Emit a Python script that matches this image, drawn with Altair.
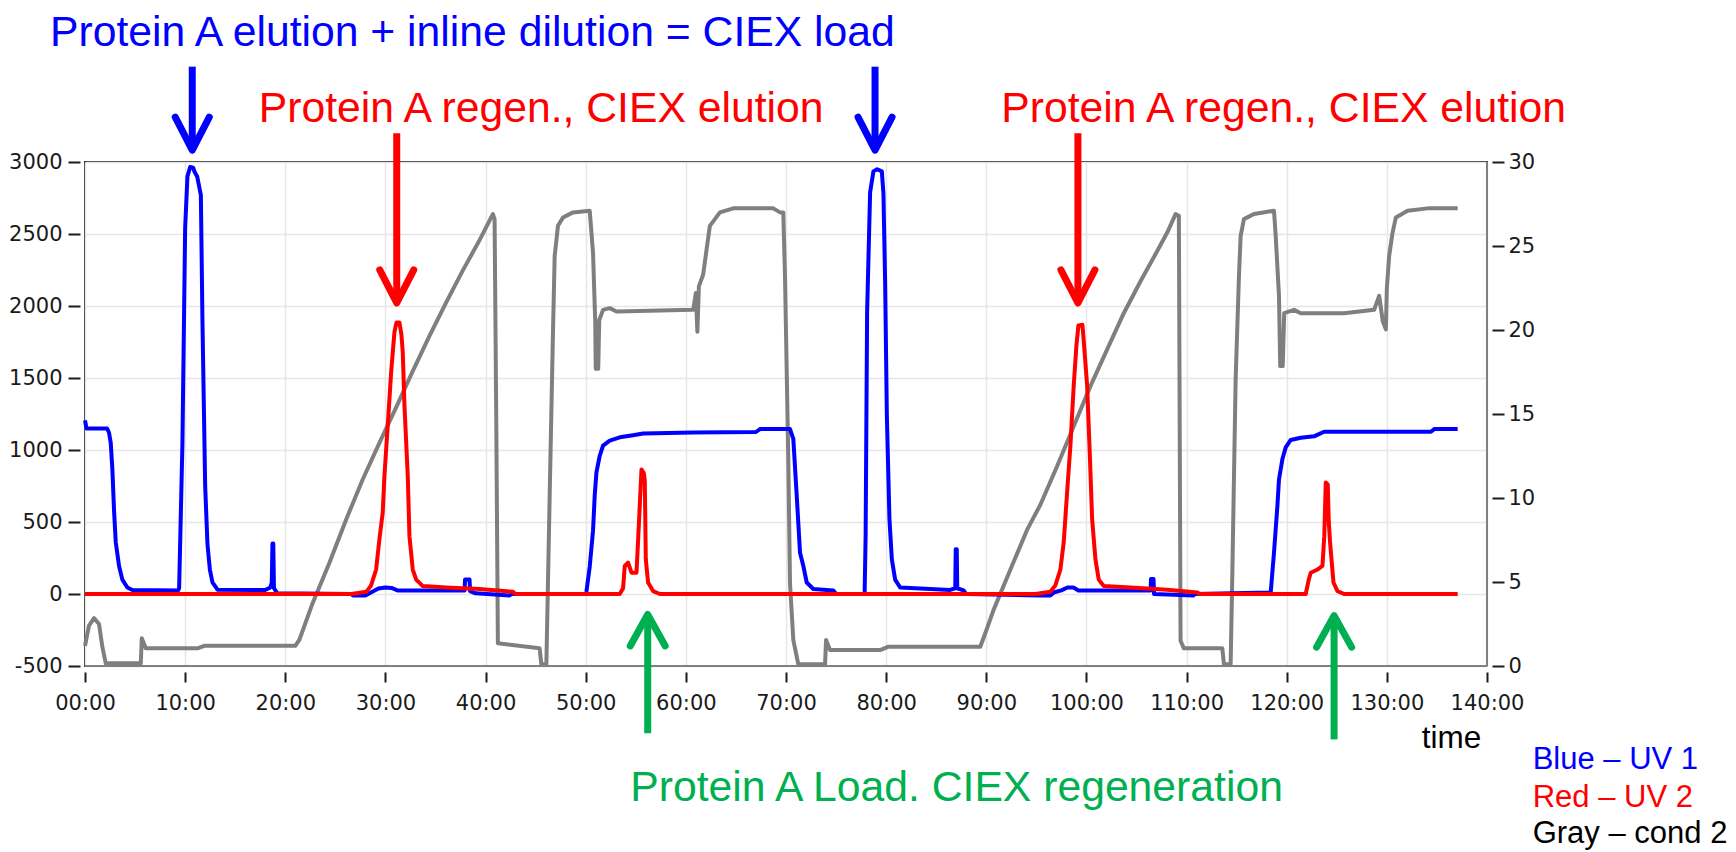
import altair as alt
import pandas as pd

# ---------------- data (time in minutes) ----------------
uv1_t = [0.0, 0.15, 2.2, 2.4, 2.57, 2.73, 2.9, 3.07, 3.4, 3.73, 4.23, 4.73, 9.3, 9.4, 9.73, 10.0, 10.23,
         10.5, 10.8, 10.95, 11.2, 11.57, 11.73, 12.0, 12.23, 12.47, 12.73, 13.23, 18.0, 18.5, 18.65, 18.72,
         18.8, 18.87, 19.2, 26.5, 26.8, 28.0, 28.6, 29.3, 30.0, 30.6, 31.2, 37.9, 37.95, 38.4, 38.45, 39.0,
         42.4, 42.6, 50.0, 50.07, 50.4, 50.73, 50.9, 51.07, 51.4, 51.73, 52.4, 53.4, 54.73, 55.73, 60.73,
         67.0, 67.4, 70.4, 70.73, 71.07, 71.4, 71.73, 72.07, 72.73, 74.73, 75.0, 77.85, 77.95, 78.1, 78.4,
         78.73, 79.1, 79.57, 79.73, 79.9, 80.07, 80.33, 80.57, 80.9, 81.4, 86.4, 86.9, 86.95, 87.05, 87.1,
         87.73, 88.0, 95.4, 96.4, 96.8, 97.5, 98.1, 98.7, 99.2, 106.4, 106.45, 106.7, 106.75, 110.7, 110.8,
         118.4, 118.73, 119.07, 119.23, 119.57, 119.9, 120.4, 121.4, 122.73, 123.73, 134.4, 134.73, 137.07]
uv1_v = [1205, 1150, 1150, 1120, 1050, 870, 580, 360, 195, 100, 45, 28, 25, 40, 1050, 2540, 2900,
         2965, 2960, 2930, 2900, 2770, 1890, 750, 345, 170, 80, 30, 28, 45, 80, 350,
         350, 40, 5, 0, -10, -10, 12, 38, 45, 42, 25, 25, 100, 100, 20, 5,
         -10, 0, 0, 15, 190, 440, 685, 845, 960, 1030, 1065, 1088, 1103, 1115, 1122,
         1125, 1145, 1145, 1077, 685, 287, 195, 80, 35, 25, 0, 0, 400, 1957, 2790,
         2935, 2950, 2935, 2780, 2165, 1240, 520, 240, 100, 45, 28, 40, 310, 310, 40,
         25, 0, -10, -10, 12, 25, 45, 45, 25, 25, 105, 105, 0, -10, 0,
         10, 287, 612, 797, 937, 1018, 1070, 1085, 1095, 1127, 1127, 1145, 1145]

uv2_t = [0.0, 26.6, 28.1, 28.57, 29.07, 29.4, 29.73, 29.9, 30.23, 30.57, 30.9, 31.1, 31.4, 31.6, 31.73,
         31.9, 32.23, 32.4, 32.73, 33.07, 33.73, 36.07, 39.4, 42.73, 43.0, 53.4, 53.73, 53.9, 54.23,
         54.57, 55.07, 55.23, 55.57, 55.8, 55.9, 56.0, 56.23, 56.73, 57.4, 94.9, 96.4, 96.9, 97.4,
         97.73, 98.07, 98.4, 98.73, 99.0, 99.2, 99.6, 99.73, 100.07, 100.33, 100.57, 100.9, 101.23,
         101.73, 104.4, 108.07, 111.07, 111.3, 121.9, 122.2, 122.4, 123.07, 123.57, 123.75, 123.9,
         124.1, 124.2, 124.33, 124.67, 125.07, 125.73, 137.07]
uv2_v = [0, 0, 15, 60, 170, 380, 566, 820, 1170, 1540, 1818, 1885, 1885, 1800, 1680,
         1310, 820, 400, 170, 100, 55, 45, 35, 15, 0, 0, 40, 195, 218,
         148, 148, 370, 865, 840, 786, 240, 80, 20, 0, 0, 15, 60, 170,
         357, 705, 1030, 1447, 1725, 1865, 1870, 1760, 1447, 985, 520, 240, 100,
         55, 45, 30, 10, 0, 0, 100, 148, 170, 195, 400, 775,
         760, 500, 357, 80, 20, 0, 0]

cond_t = [0.0, 0.4, 0.9, 1.4, 1.73, 2.07, 5.57, 5.67, 6.07, 11.23, 11.9, 21.0, 21.4, 22.73, 24.4, 26.07,
          27.73, 29.4, 31.07, 32.73, 34.4, 36.07, 37.73, 39.4, 40.73, 40.9, 41.07, 41.23, 45.4, 45.57,
          46.07, 46.4, 46.73, 46.9, 47.23, 47.73, 48.73, 50.4, 50.73, 50.95, 51.0, 51.25, 51.35, 51.73,
          52.4, 53.07, 60.73, 61.0, 61.15, 61.3, 61.73, 62.07, 62.4, 63.4, 64.73, 68.73, 69.4, 69.73,
          69.9, 70.23, 70.4, 70.73, 71.23, 73.9, 74.0, 74.4, 79.4, 80.23, 89.4, 89.9, 90.73, 92.4,
          94.07, 95.4, 97.07, 98.73, 100.4, 102.07, 103.73, 105.4, 107.07, 108.07, 108.9, 109.23,
          109.4, 109.73, 113.57, 113.73, 114.4, 114.57, 114.9, 115.23, 115.4, 115.73, 116.73, 118.73,
          118.9, 119.23, 119.35, 119.6, 119.75, 120.73, 121.4, 125.73, 128.73, 129.23, 129.6, 129.9,
          130.0, 130.23, 130.57, 130.9, 132.07, 134.07, 137.07]
cond_v = [1.2, 2.4, 2.85, 2.5, 1.15, 0.16, 0.16, 1.65, 1.05, 1.05, 1.2, 1.2, 1.55, 3.74, 6.13, 8.71,
          11.1, 13.28, 15.4, 17.55, 19.65, 21.65, 23.55, 25.35, 26.9, 26.6, 14.48, 1.35, 1.05, 0.1,
          0.1, 10.1, 19.84, 24.4, 26.2, 26.7, 27.0, 27.1, 24.6, 20.5, 17.7, 17.7, 20.6, 21.2,
          21.3, 21.1, 21.2, 22.2, 19.9, 22.6, 23.3, 24.8, 26.2, 27.0, 27.24, 27.24, 27.0, 27.0,
          23.2, 12.3, 4.9, 1.55, 0.1, 0.1, 1.55, 0.95, 0.95, 1.15, 1.15, 1.95, 3.34, 5.73,
          8.1, 9.6, 11.89, 14.27, 16.66, 18.85, 21.0, 22.9, 24.7, 25.8, 26.9, 26.8,
          1.5, 1.05, 1.05, 0.1, 0.1, 5.53, 17.06, 23.2, 25.6, 26.6, 26.9, 27.1,
          25.6, 22.0, 17.85, 17.85, 21.0, 21.2, 21.0, 21.0, 21.2, 22.03, 20.5, 20.04,
          22.5, 24.41, 25.8, 26.7, 27.1, 27.24, 27.24]

x_ticks = [0, 10, 20, 30, 40, 50, 60, 70, 80, 90, 100, 110, 120, 130, 140]
left_ticks = [-500, 0, 500, 1000, 1500, 2000, 2500, 3000]
right_ticks = [0, 5, 10, 15, 20, 25, 30]

# annotation texts (position in data units: minutes, left-axis value)
note_text = ["Protein A elution + inline dilution = CIEX load",
             "Protein A regen., CIEX elution", "Protein A regen., CIEX elution",
             "Protein A Load. CIEX regeneration", "time",
             "Blue \u2013 UV 1", "Red \u2013 UV 2", "Gray \u2013 cond 2"]
note_t = [-3.5, 17.35, 91.5, 54.45, 133.48, 144.56, 144.56, 144.56]
note_v = [3803, 3280, 3280, -1437, -1072, -1215, -1480, -1732]
note_col = ["#0000FF", "#FF0000", "#FF0000", "#00B050", "#000000", "#0000FF", "#FF0000", "#000000"]
note_fs = [42.7, 42.7, 42.7, 42.7, 31.5, 31, 31, 31]

# arrows: shaft from v_from to v_to, head tip at v_tip
arrow_t = [10.71, 78.89, 31.13, 99.15, 56.19, 124.73]
arrow_from = [3662, 3662, 3199, 3199, -967, -1010]
arrow_to = [3097, 3097, 2042, 2042, -167, -175]
arrow_tip = [3083, 3083, 2021, 2021, -142, -150]
arrow_dir = ["down", "down", "down", "down", "up", "up"]
arrow_col = ["#0000FF", "#0000FF", "#FF0000", "#FF0000", "#00B050", "#00B050"]

# ---------------- tables ----------------
uv = pd.DataFrame({
    "t": uv1_t + uv2_t,
    "v": uv1_v + uv2_v,
    "series": ["UV 1"] * len(uv1_t) + ["UV 2"] * len(uv2_t),
})
cond = pd.DataFrame({"t": cond_t, "c": cond_v})
notes = pd.DataFrame({"t": note_t, "v": note_v, "text": note_text, "col": note_col, "fs": note_fs})
arrows = pd.DataFrame({"t": arrow_t, "v": arrow_from, "v2": arrow_to, "tip": arrow_tip,
                       "dir": arrow_dir, "col": arrow_col})
frame = pd.DataFrame({"t": [0, 140], "t2": [140, 140], "v": [-500, -500], "v2": [-500, 3000]})

XS = alt.Scale(domain=[0, 140], nice=False, zero=False)
YS = alt.Scale(domain=[-500, 3000], nice=False, zero=False)
CS = alt.Scale(domain=[0, 30], nice=False, zero=False)

LABEL_FONT = "DejaVu Sans"
TEXT_FONT = "Liberation Sans"

x_axis = alt.Axis(values=x_ticks, title=None, grid=True, gridColor="#e6e6e6", gridWidth=1.5,
                  domain=False, offset=6, tickSize=10, tickWidth=2, tickColor="#1a1a1a",
                  labelExpr="(datum.value < 10 ? '0' : '') + datum.value + ':00'",
                  labelFont=LABEL_FONT, labelFontSize=21, labelColor="#1a1a1a", labelPadding=10,
                  labelFlush=False, labelOverlap=False)
y_axis = alt.Axis(values=left_ticks, title=None, grid=True, gridColor="#e6e6e6", gridWidth=1.5,
                  domain=False, offset=5, tickSize=12, tickWidth=2, tickColor="#1a1a1a",
                  labelExpr="'' + datum.value", labelFont=LABEL_FONT, labelFontSize=21,
                  labelColor="#1a1a1a", labelPadding=6, labelFlush=False, labelOverlap=False)
c_axis = alt.Axis(values=right_ticks, title=None, grid=False, orient="right",
                  domain=False, offset=5, tickSize=12, tickWidth=2, tickColor="#1a1a1a",
                  labelExpr="'' + datum.value", labelFont=LABEL_FONT, labelFontSize=21,
                  labelColor="#1a1a1a", labelPadding=4, labelFlush=False, labelOverlap=False)

X = alt.X("t:Q", scale=XS, axis=x_axis)
Y = alt.Y("v:Q", scale=YS, axis=y_axis)

gray_line = alt.Chart(cond).mark_line(color="#7f7f7f", strokeWidth=4, strokeJoin="round").encode(
    x=X,
    y=alt.Y("c:Q", scale=CS, axis=c_axis),
    order="t:Q",
)

uv_lines = alt.Chart(uv).mark_line(strokeWidth=4, strokeJoin="round").encode(
    x=X,
    y=Y,
    color=alt.Color("series:N", scale=alt.Scale(domain=["UV 1", "UV 2"], range=["#0000FF", "#FF0000"]),
                    legend=None),
    order="t:Q",
)

frame_rules = alt.Chart(frame).mark_rule(color="#808080", strokeWidth=2).encode(
    x=X, x2="t2:Q", y=Y, y2="v2:Q",
)

texts = alt.Chart(notes).mark_text(align="left", baseline="alphabetic", font=TEXT_FONT).encode(
    x=X, y=Y,
    text="text:N",
    color=alt.Color("col:N", scale=None),
    size=alt.Size("fs:Q", scale=None),
)

shafts = alt.Chart(arrows).mark_rule(strokeWidth=7).encode(
    x=X, y=Y, y2="v2:Q",
    color=alt.Color("col:N", scale=None),
)

heads_down = alt.Chart(arrows).transform_filter("datum.dir == 'down'").mark_point(
    shape="M -17 -33 L 0 0 L 17 -33", size=4, filled=False, strokeWidth=7,
    strokeCap="round", strokeJoin="round", opacity=1).encode(
    x=X,
    y=alt.Y("tip:Q", scale=YS, axis=y_axis),
    color=alt.Color("col:N", scale=None),
)

heads_up = alt.Chart(arrows).transform_filter("datum.dir == 'up'").mark_point(
    shape="M -17.5 31.5 L 0 0 L 17.5 31.5", size=4, filled=False, strokeWidth=7,
    strokeCap="round", strokeJoin="round", opacity=1).encode(
    x=X,
    y=alt.Y("tip:Q", scale=YS, axis=y_axis),
    color=alt.Color("col:N", scale=None),
)

uv_group = alt.layer(uv_lines, frame_rules, texts, shafts, heads_down, heads_up)

chart = alt.layer(gray_line, uv_group).resolve_scale(y="independent").properties(
    width=1402, height=504,
    autosize=alt.AutoSizeParams(type="none"),
    padding={"left": 77, "top": 154, "right": 241, "bottom": 186},
    background="white",
).configure_view(stroke="#262626", strokeWidth=2)

chart.save("out.html", embed_options={"renderer": "svg", "actions": False})
